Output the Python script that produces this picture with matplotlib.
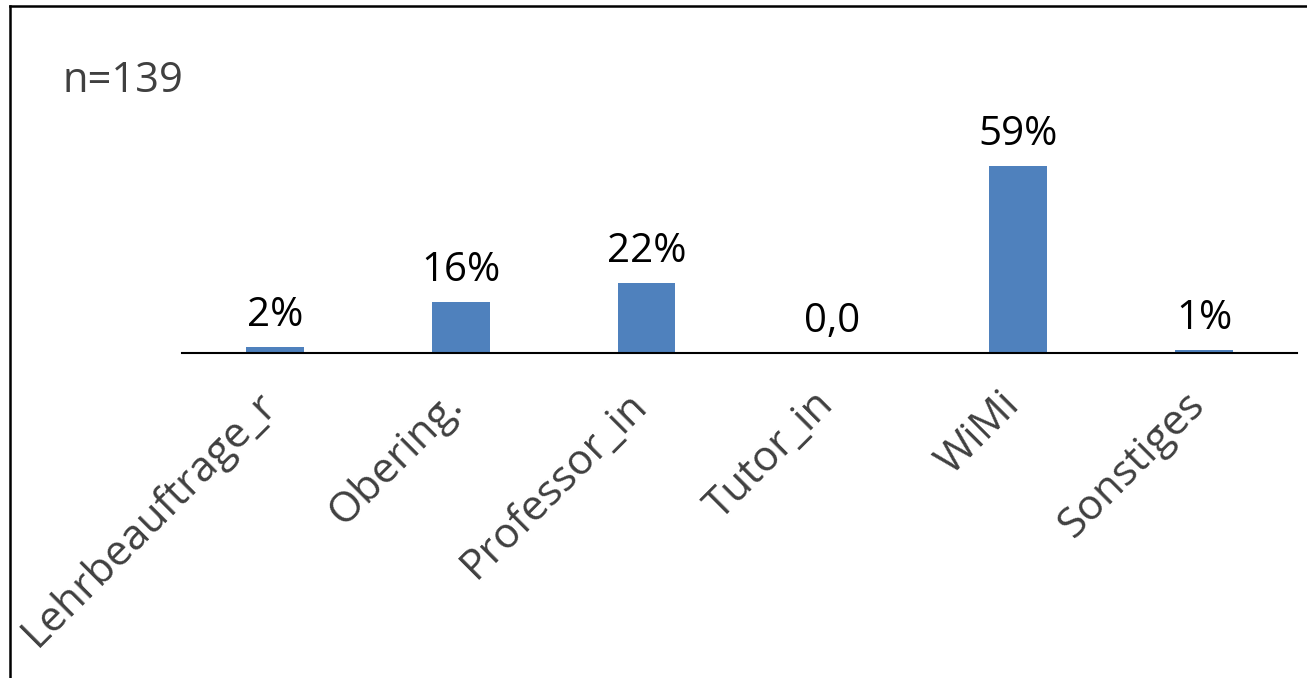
import numpy as np
import matplotlib.pyplot as plt
import matplotlib.transforms as mtransforms
from matplotlib.lines import Line2D

categories = ["Lehrbeauftrage_r", "Obering.", "Professor_in", "Tutor_in", "WiMi", "Sonstiges"]
values = [2, 16, 22, 0, 59, 1]
value_labels = ["2%", "16%", "22%", "0,0", "59%", "1%"]
n_text = "n=139"

plt.rcParams['font.family'] = ['Open Sans', 'DejaVu Sans']

W, H = 1307, 678
fig = plt.figure(figsize=(W / 100, H / 100), dpi=100)
ax = fig.add_axes([182 / W, 1 - 353 / H, (1297 - 182) / W, (353 - 100) / H])

x = np.arange(len(categories))
bars = ax.bar(x, values, width=0.31, color='#4F81BD')
ax.set_xlim(-0.5, len(categories) - 0.5)
ax.set_ylim(0, 80)

for xi, v, lab in zip(x, values, value_labels):
    ax.annotate(lab, (xi, v), xytext=(0, 8), textcoords='offset points',
                ha='center', va='bottom', fontsize=29, color='black')

for s in ['top', 'right', 'left']:
    ax.spines[s].set_visible(False)
ax.spines['bottom'].set_linewidth(1.5)
ax.spines['bottom'].set_color('black')
ax.set_yticks([])
ax.set_xticks(x)
ax.set_xticklabels(categories, rotation=45, ha='right', va='top',
                   rotation_mode='anchor', fontsize=30.5, color='#404040')
ax.tick_params(axis='x', length=0, pad=22)
shift = mtransforms.ScaledTranslation(-0.2, 0, fig.dpi_scale_trans)
for lbl in ax.get_xticklabels():
    lbl.set_transform(lbl.get_transform() + shift)

fig.text(62 / W, 1 - 92 / H, n_text, fontsize=30, color='#404040', va='baseline')

# frame lines (left and top)
fig.add_artist(Line2D([10 / W, 10 / W], [0, 1 - 6 / H], transform=fig.transFigure, color='black', lw=1.8))
fig.add_artist(Line2D([10 / W, 1], [1 - 6 / H, 1 - 6 / H], transform=fig.transFigure, color='black', lw=1.8))

fig.savefig('out.png', dpi=100)
